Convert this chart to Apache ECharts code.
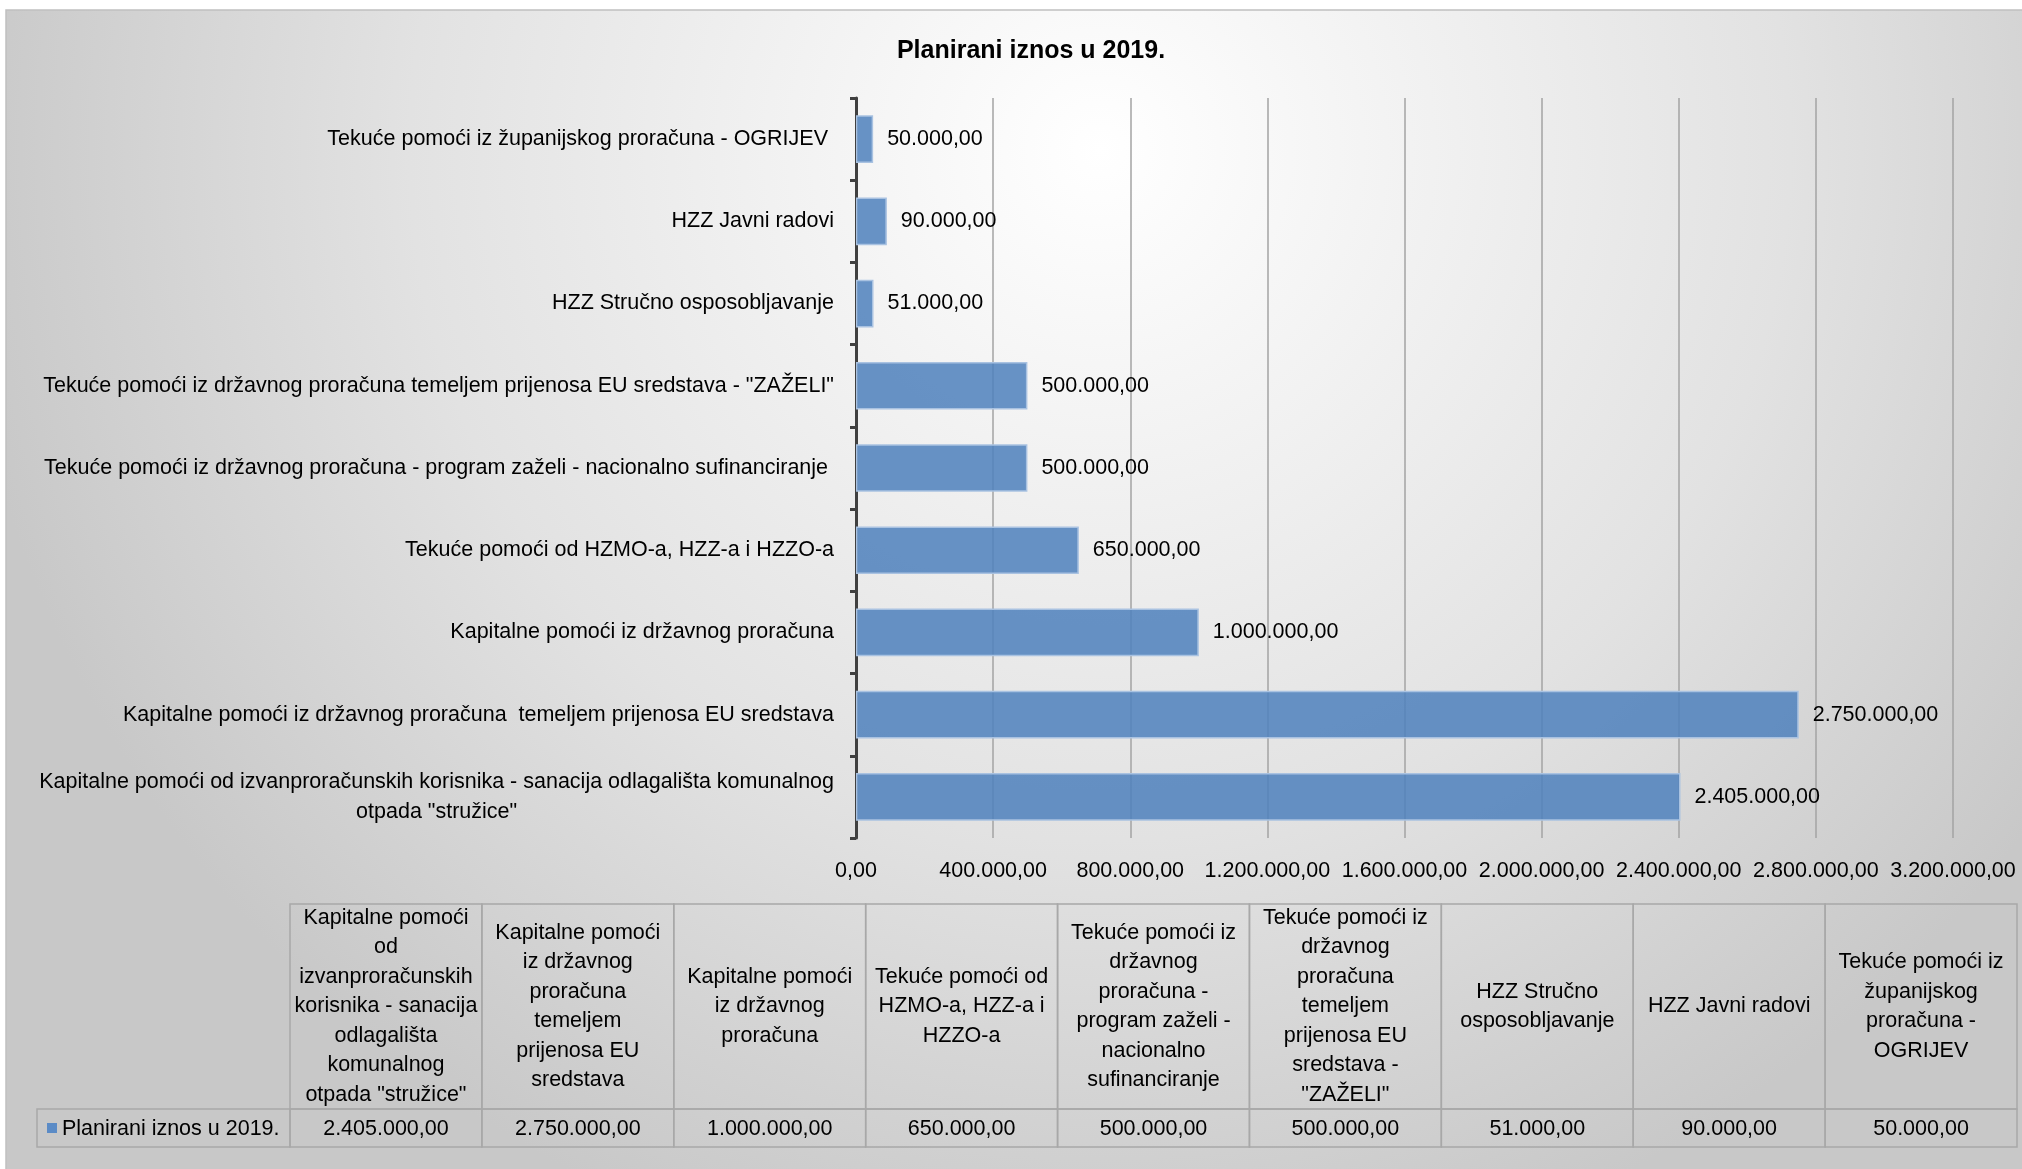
<!DOCTYPE html>
<html>
<head>
<meta charset="utf-8">
<style>
html,body{margin:0;padding:0;background:#fff;}
#chart{width:2022px;height:1169px;}
</style>
<script src="https://cdn.jsdelivr.net/npm/echarts@6/dist/echarts.min.js"></script>
</head>
<body>
<div id="chart"></div>
<script>
// ---------- DATA ----------
const seriesName = 'Planirani iznos u 2019.';
const categories = [
  'Kapitalne pomoći od izvanproračunskih korisnika - sanacija odlagališta komunalnog otpada "stružice"',
  'Kapitalne pomoći iz državnog proračuna  temeljem prijenosa EU sredstava',
  'Kapitalne pomoći iz državnog proračuna',
  'Tekuće pomoći od HZMO-a, HZZ-a i HZZO-a',
  'Tekuće pomoći iz državnog proračuna - program zaželi - nacionalno sufinanciranje ',
  'Tekuće pomoći iz državnog proračuna temeljem prijenosa EU sredstava - "ZAŽELI"',
  'HZZ Stručno osposobljavanje',
  'HZZ Javni radovi',
  'Tekuće pomoći iz županijskog proračuna - OGRIJEV '
];
const values = [2405000, 2750000, 1000000, 650000, 500000, 500000, 51000, 90000, 50000];
const tableHeaders = [
  'Kapitalne pomoći\nod\nizvanproračunskih\nkorisnika - sanacija\nodlagališta\nkomunalnog\notpada "stružice"',
  'Kapitalne pomoći\niz državnog\nproračuna\ntemeljem\nprijenosa EU\nsredstava',
  'Kapitalne pomoći\niz državnog\nproračuna',
  'Tekuće pomoći od\nHZMO-a, HZZ-a i\nHZZO-a',
  'Tekuće pomoći iz\ndržavnog\nproračuna -\nprogram zaželi -\nnacionalno\nsufinanciranje',
  'Tekuće pomoći iz\ndržavnog\nproračuna\ntemeljem\nprijenosa EU\nsredstava -\n"ZAŽELI"',
  'HZZ Stručno\nosposobljavanje',
  'HZZ Javni radovi',
  'Tekuće pomoći iz\nžupanijskog\nproračuna -\nOGRIJEV'
];
const xMin = 0, xMax = 3200000, xStep = 400000;

// ---------- STYLE ----------
const FONT = '"Liberation Sans", Arial, sans-serif';
const FS = 21.5;
const BAR_COLOR = 'rgba(79,129,189,0.86)';
const LEGEND_COLOR = '#5b8bc6';
const TABLE_LINE = '#a8a8a8';
const DATA_ROW_H = 38;
const LEFT_CELL_X = 37;

function fmt(v) {
  const parts = Number(v).toFixed(2).split('.');
  return parts[0].replace(/\B(?=(\d{3})+(?!\d))/g, '.') + ',' + parts[1];
}

const measureCtx = document.createElement('canvas').getContext('2d');
measureCtx.font = FS + 'px ' + FONT;
function wrapLabel(text, maxW) {
  if (measureCtx.measureText(text).width <= maxW) return text;
  const words = text.split(' ');
  const lines = [];
  let cur = '';
  words.forEach(w => {
    const t = cur ? cur + ' ' + w : w;
    if (cur && measureCtx.measureText(t).width > maxW) { lines.push(cur); cur = w; }
    else cur = t;
  });
  if (cur) lines.push(cur);
  return lines.map(l => '{c|' + l + '}').join('\n');
}

const chart = echarts.init(document.getElementById('chart'), null, {renderer: 'canvas'});

const option = {
  animation: false,
  backgroundColor: '#ffffff',
  graphic: [{
    type: 'rect',
    z: -100,
    silent: true,
    shape: {x: 6, y: 10, width: 2030, height: 1170},
    style: {
      fill: new echarts.graphic.RadialGradient(1100, 150, 1150, [
        {offset: 0, color: '#ffffff'},
        {offset: 0.6, color: '#e2e2e2'},
        {offset: 1, color: '#c8c8c8'}
      ], true),
      stroke: '#c0c0c0',
      lineWidth: 1.5
    }
  }],
  title: {
    text: seriesName,
    left: 1026,
    top: 34,
    textAlign: 'center',
    textStyle: {fontFamily: FONT, fontSize: 25, fontWeight: 'bold', color: '#000'}
  },
  grid: [
    {left: 856, top: 98, width: 1097, height: 740, containLabel: false, outerBoundsMode: 'none'},
    {left: 290, top: 904, width: 1727, height: 243, containLabel: false, outerBoundsMode: 'none'}
  ],
  xAxis: [{
    type: 'value',
    gridIndex: 0,
    min: xMin, max: xMax, interval: xStep,
    axisLine: {show: false},
    axisTick: {show: false},
    splitLine: {show: true, lineStyle: {color: '#a3a3a3', width: 1.5}},
    axisLabel: {formatter: fmt, margin: 22, color: '#000', fontFamily: FONT, fontSize: FS}
  }, {
    type: 'category',
    gridIndex: 1,
    data: categories,
    boundaryGap: true,
    show: false
  }],
  yAxis: [{
    type: 'category',
    gridIndex: 0,
    data: categories,
    axisLine: {show: true, lineStyle: {color: '#404040', width: 3}},
    axisTick: {show: true, length: 6, lineStyle: {color: '#404040', width: 3}},
    splitLine: {show: false},
    axisLabel: {
      margin: 22,
      color: '#000',
      fontFamily: FONT,
      fontSize: FS,
      lineHeight: 30,
      formatter: v => wrapLabel(v, 840),
      rich: {c: {align: 'center', fontFamily: FONT, fontSize: FS, lineHeight: 30, color: '#000'}}
    }
  }, {
    type: 'value',
    gridIndex: 1,
    min: 0, max: 1,
    show: false
  }],
  series: [{
    name: seriesName,
    type: 'bar',
    xAxisIndex: 0,
    yAxisIndex: 0,
    data: values,
    barWidth: '58%',
    itemStyle: {color: BAR_COLOR, borderColor: '#a9c2e1', borderWidth: 1.5},
    label: {
      show: true,
      position: 'right',
      distance: 14,
      formatter: p => fmt(p.value),
      color: '#000',
      fontFamily: FONT,
      fontSize: FS
    }
  }, {
    name: 'table',
    type: 'custom',
    xAxisIndex: 1,
    yAxisIndex: 1,
    clip: false,
    data: values.map((v, i) => [i, v]),
    renderItem: function (params, api) {
      const i = api.value(0);
      const cx = api.coord([i, 0])[0];
      const w = api.size([1, 0])[0];
      const cs = params.coordSys;
      const top = cs.y, bottom = cs.y + cs.height, mid = bottom - DATA_ROW_H;
      const x0 = cx - w / 2;
      const lineStyle = {fill: 'none', stroke: TABLE_LINE, lineWidth: 1.5};
      const txt = {fill: '#000', fontFamily: FONT, fontSize: FS, align: 'center', verticalAlign: 'middle', lineHeight: 29.5};
      const children = [
        {type: 'rect', shape: {x: x0, y: top, width: w, height: mid - top}, style: lineStyle},
        {type: 'rect', shape: {x: x0, y: mid, width: w, height: DATA_ROW_H}, style: lineStyle},
        {type: 'text', style: Object.assign({text: tableHeaders[i], x: cx, y: (top + mid) / 2}, txt)},
        {type: 'text', style: Object.assign({text: fmt(api.value(1)), x: cx, y: (mid + bottom) / 2 + 1}, txt)}
      ];
      if (i === 0) {
        children.push(
          {type: 'rect', shape: {x: LEFT_CELL_X, y: mid, width: x0 - LEFT_CELL_X, height: DATA_ROW_H}, style: lineStyle},
          {type: 'rect', shape: {x: LEFT_CELL_X + 10, y: mid + DATA_ROW_H / 2 - 5, width: 10, height: 10}, style: {fill: LEGEND_COLOR}},
          {type: 'text', style: Object.assign({}, txt, {text: seriesName, x: LEFT_CELL_X + 25, y: mid + DATA_ROW_H / 2 + 1, align: 'left'})}
        );
      }
      return {type: 'group', children: children};
    }
  }]
};
chart.setOption(option);
</script>
</body>
</html>
